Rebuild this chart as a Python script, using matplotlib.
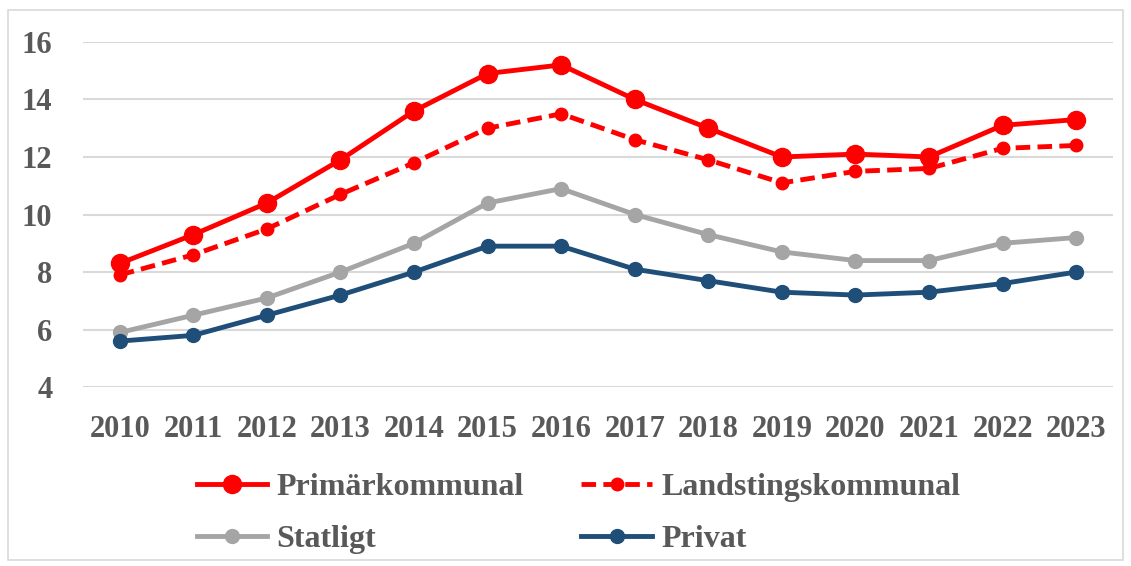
import matplotlib.pyplot as plt
import matplotlib.patches as mpatches

# ---------------------------------------------------------------------------
# Data
# ---------------------------------------------------------------------------
years = ["2010", "2011", "2012", "2013", "2014", "2015", "2016",
         "2017", "2018", "2019", "2020", "2021", "2022", "2023"]

primarkommunal = [8.3, 9.3, 10.4, 11.9, 13.6, 14.9, 15.2,
                  14.0, 13.0, 12.0, 12.1, 12.0, 13.1, 13.3]
landstingskommunal = [7.9, 8.6, 9.5, 10.7, 11.8, 13.0, 13.5,
                      12.6, 11.9, 11.1, 11.5, 11.6, 12.3, 12.4]
statligt = [5.9, 6.5, 7.1, 8.0, 9.0, 10.4, 10.9,
            10.0, 9.3, 8.7, 8.4, 8.4, 9.0, 9.2]
privat = [5.6, 5.8, 6.5, 7.2, 8.0, 8.9, 8.9,
          8.1, 7.7, 7.3, 7.2, 7.3, 7.6, 8.0]

y_ticks = [4, 6, 8, 10, 12, 14, 16]

TEXT_COLOR = "#595959"
GRID_COLOR = "#D9D9D9"

plt.rcParams["font.family"] = ["Liberation Serif", "DejaVu Serif"]
plt.rcParams["font.weight"] = "bold"

fig = plt.figure(figsize=(11.31, 5.66), dpi=100)
ax = fig.add_axes([0.0734, 0.316, 0.9106, 0.610])

x = list(range(len(years)))

h1, = ax.plot(x, primarkommunal, color="#FF0000", lw=3.5, marker="o",
              markersize=13, label="Primärkommunal", zorder=5, clip_on=False)
h2, = ax.plot(x, landstingskommunal, color="#FF0000", lw=3.5,
              ls=(0, (3, 1.5)), marker="o", markersize=9,
              label="Landstingskommunal", zorder=4, clip_on=False)
h3, = ax.plot(x, statligt, color="#A5A5A5", lw=3.5, marker="o",
              markersize=10, label="Statligt", zorder=3, clip_on=False)
h4, = ax.plot(x, privat, color="#1F4E79", lw=3.5, marker="o",
              markersize=10, label="Privat", zorder=3, clip_on=False)

ax.set_xlim(-0.5, len(years) - 0.5)
ax.set_ylim(4, 16)
ax.set_yticks(y_ticks)
ax.set_xticks(x)
ax.set_xticklabels(years)
ax.tick_params(axis="both", length=0, labelsize=22, labelcolor=TEXT_COLOR)
ax.tick_params(axis="y", pad=22)
ax.tick_params(axis="x", pad=20)

ax.grid(axis="y", color=GRID_COLOR, lw=1.5)
ax.set_axisbelow(True)
for side in ax.spines.values():
    side.set_visible(False)

# --- legend (row-major order: matplotlib fills columns first) ---
handles = [h1, h3, h2, h4]
fig.legend(handles=handles, labels=[h.get_label() for h in handles],
           loc="center", bbox_to_anchor=(0.5115, 0.093), ncol=2,
           frameon=False, fontsize=23, labelcolor=TEXT_COLOR,
           handlelength=2.2, handletextpad=0.3, columnspacing=1.8,
           labelspacing=0.72)

# --- chart border ---
fig.patches.append(mpatches.Rectangle(
    (8 / 1131, 6 / 566), 1115 / 1131, 550 / 566,
    transform=fig.transFigure, fill=False, edgecolor="#D9D9D9", lw=1.2))

fig.savefig("out.png", dpi=100)
